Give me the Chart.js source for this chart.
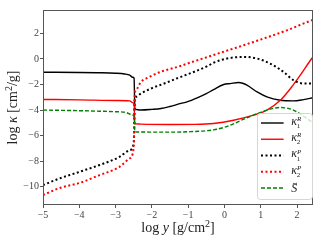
<!DOCTYPE html>
<html>
<head>
<meta charset="utf-8">
<script src="https://cdn.jsdelivr.net/npm/chart.js@4.4.1/dist/chart.umd.min.js"></script>
<style>
  html, body { margin: 0; padding: 0; background: #fff; }
  canvas { display: block; }
</style>
</head>
<body>
<canvas id="c" width="314" height="245"></canvas>
<script>
/* axis ranges and ticks */
const xMin = -5, xMax = 2.44;
const yMin = -11.43, yMax = 3.83;
const xTicks = [-5, -4, -3, -2, -1, 0, 1, 2];
const yTicks = [-10, -8, -6, -4, -2, 0, 2];

/* kappa_1^R (black, solid) */
const k1R_x = [-5, -4, -3.5, -3, -2.75, -2.61, -2.53, -2.49, -2.47, -2.44, -2.3, -2.0, -1.75, -1.5, -1.2,
               -1.03, -0.75, -0.5, -0.3, -0.02, 0.16, 0.39, 0.5, 0.62, 0.9, 1.17, 1.54, 1.9, 2.18, 2.44];
const k1R_y = [-1.04, -1.06, -1.08, -1.12, -1.18, -1.27, -1.43, -1.5, -3.85, -3.95, -4.0, -3.95, -3.88, -3.72, -3.48,
               -3.36, -3.05, -2.72, -2.4, -2.0, -1.93, -1.84, -1.9, -2.05, -2.58, -2.97, -3.23, -3.28, -3.18, -3.04];

/* kappa_2^R (red, solid) */
const k2R_x = [-5, -4, -3, -2.61, -2.53, -2.49, -2.47, -2.44, -2.3, -1.5, -0.8, -0.3, 0.25, 0.8, 1.17, 1.54, 1.82, 2.09, 2.37, 2.44];
const k2R_y = [-3.17, -3.2, -3.25, -3.28, -3.42, -3.5, -5.05, -5.08, -5.1, -5.13, -5.12, -5.05, -4.8, -4.4, -4.0, -3.23, -2.31, -1.27, -0.1, 0.16];

/* kappa_1^P (black, dotted) */
const k1P_x = [-5, -4.54, -3.99, -3.44, -2.89, -2.61, -2.5, -2.47, -2.44, -2.3, -2.02, -1.66, -1.2, -0.83, -0.46,
               -0.3, 0.07, 0.53, 0.9, 1.26, 1.63, 1.9, 2.18, 2.44];
const k1P_y = [-9.87, -9.35, -8.83, -8.3, -7.66, -7.13, -6.6, -3.1, -2.97, -2.7, -2.31, -1.92, -1.4, -1.0, -0.55,
               -0.3, 0.03, 0.16, 0.03, -0.36, -1.02, -1.66, -1.92, -1.92];

/* kappa_2^P (red, dotted) */
const k2P_x = [-5, -4.54, -3.99, -3.44, -2.89, -2.61, -2.5, -2.47, -2.44, -2.3, -2.12, -1.75, -1.29, -0.83, -0.46, 0.8, 1.72, 2.4, 2.44];
const k2P_y = [-10.65, -10.1, -9.7, -9.09, -8.44, -7.78, -6.9, -2.7, -2.45, -1.8, -1.48, -1.0, -0.62, -0.18, 0.16, 1.33, 2.24, 3.02, 3.06];

/* S tilde (green, dashed) */
const S_x = [-5, -4, -3.44, -3, -2.7, -2.53, -2.49, -2.47, -2.3, -1.75, -1.0, -0.3, 0.0, 0.25, 0.5, 0.8, 1.17, 1.54, 1.9, 2.27, 2.44];
const S_y = [-4.0, -4.05, -4.09, -4.13, -4.2, -4.4, -4.5, -5.7, -5.72, -5.73, -5.7, -5.55, -5.35, -5.08, -4.75, -4.4, -4.0, -3.8, -4.0, -4.66, -5.0];

/* legend symbols */
const legendSym = ["\u03ba", "\u03ba", "\u03ba", "\u03ba", "S"];
const legendSub = ["1", "2", "1", "2", ""];
const legendSup = ["R", "R", "P", "P", ""];

const SERIF = '"Liberation Serif", "DejaVu Serif", serif';

function pts(xs, ys) {
  return xs.map((x, i) => ({ x: x, y: ys[i] }));
}

const fmt = v => (v < 0 ? "\u2212" + Math.abs(v) : String(v));

function drawRuns(ctx, runs, cx, cy) {
  let w = 0;
  runs.forEach(r => { ctx.font = r.font; w += ctx.measureText(r.t).width; });
  let x = cx - w / 2;
  runs.forEach(r => {
    ctx.font = r.font;
    ctx.fillText(r.t, x, cy + (r.dy || 0));
    x += ctx.measureText(r.t).width;
  });
}

/* ===== plugins ===== */
const framePlugin = {
  id: "frame",
  afterDatasetsDraw(chart) {
    const a = chart.chartArea, ctx = chart.ctx;
    ctx.save();
    ctx.strokeStyle = "#555";
    ctx.lineWidth = 1;
    ctx.strokeRect(Math.round(a.left) + 0.5, Math.round(a.top) + 0.5,
                   Math.round(a.right - a.left) - 1, Math.round(a.bottom - a.top) - 1);
    ctx.restore();
  }
};

const titlePlugin = {
  id: "texTitles",
  afterDraw(chart) {
    const a = chart.chartArea, ctx = chart.ctx;
    const up = "14px " + SERIF, it = "italic 14px " + SERIF, sm = "10px " + SERIF;
    ctx.save();
    ctx.fillStyle = "#222";
    ctx.textBaseline = "alphabetic";
    drawRuns(ctx, [
      { t: "log ", font: up }, { t: "y", font: it }, { t: " [g/cm", font: up },
      { t: "2", font: sm, dy: -5 }, { t: "]", font: up }
    ], (a.left + a.right) / 2, a.bottom + 27);

    ctx.translate(17, (a.top + a.bottom) / 2);
    ctx.rotate(-Math.PI / 2);
    drawRuns(ctx, [
      { t: "log ", font: up }, { t: "\u03ba", font: it }, { t: " [cm", font: up },
      { t: "2", font: sm, dy: -5 }, { t: "/g]", font: up }
    ], 0, 0);
    ctx.restore();
  }
};

const legendPlugin = {
  id: "texLegend",
  afterDraw(chart) {
    const a = chart.chartArea, ctx = chart.ctx;
    const w = 55, h = 86;
    const x0 = Math.round(a.right - 1.5 - w), y0 = Math.round(a.bottom - 6 - h);
    ctx.save();
    ctx.beginPath();
    ctx.roundRect(x0 + 0.5, y0 + 0.5, w, h, 3);
    ctx.fillStyle = "rgba(255,255,255,0.8)";
    ctx.fill();
    ctx.strokeStyle = "#d6d6d6";
    ctx.lineWidth = 1;
    ctx.stroke();

    chart.data.datasets.forEach((ds, i) => {
      const cy = y0 + 10 + i * 16.25;
      ctx.beginPath();
      ctx.setLineDash(ds.borderDash || []);
      ctx.lineWidth = ds.borderWidth;
      ctx.strokeStyle = ds.borderColor;
      ctx.lineCap = "butt";
      ctx.moveTo(x0 + 4, cy);
      ctx.lineTo(x0 + 26.6, cy);
      ctx.stroke();
      ctx.setLineDash([]);

      const tx = x0 + 34.3;
      ctx.fillStyle = "#222";
      ctx.textBaseline = "alphabetic";
      ctx.textAlign = "left";
      if (legendSym[i] === "S") {
        ctx.font = "italic 12px " + SERIF;
        ctx.fillText("S", tx, cy + 3.8);
        // tilde accent
        ctx.beginPath();
        ctx.strokeStyle = "#222";
        ctx.lineWidth = 0.8;
        const ax = tx + 1.5, ay = cy - 4.6;
        ctx.moveTo(ax, ay + 0.6);
        ctx.bezierCurveTo(ax + 1.2, ay - 1.2, ax + 2.4, ay + 1.6, ax + 4.2, ay - 0.4);
        ctx.stroke();
      } else {
        ctx.font = "italic 12px " + SERIF;
        ctx.fillText(legendSym[i], tx, cy + 1.9);
        const sw = ctx.measureText(legendSym[i]).width;
        ctx.font = "italic 7px " + SERIF;
        ctx.fillText(legendSup[i], tx + sw, cy - 1.8);
        ctx.font = "7px " + SERIF;
        ctx.fillText(legendSub[i], tx + sw - 0.3, cy + 5.2);
      }
    });
    ctx.restore();
  }
};

/* ===== chart ===== */
const tickStyle = { font: { family: SERIF, size: 10 }, color: "#444", autoSkip: false, maxRotation: 0, callback: v => fmt(v) };
const gridStyle = { drawOnChartArea: false, drawTicks: true, tickLength: 3, color: "#555", lineWidth: 1 };

new Chart(document.getElementById("c"), {
  type: "line",
  data: {
    datasets: [
      { label: "k1R", data: pts(k1R_x, k1R_y), borderColor: "#000000", borderWidth: 1.4, order: 5 },
      { label: "k2R", data: pts(k2R_x, k2R_y), borderColor: "#ff0000", borderWidth: 1.4, order: 4 },
      { label: "k1P", data: pts(k1P_x, k1P_y), borderColor: "#000000", borderWidth: 2, borderDash: [2, 2.5], order: 3 },
      { label: "k2P", data: pts(k2P_x, k2P_y), borderColor: "#ff0000", borderWidth: 2, borderDash: [2, 2.5], order: 2 },
      { label: "S", data: pts(S_x, S_y), borderColor: "#008000", borderWidth: 1.4, borderDash: [4, 2], order: 1 }
    ]
  },
  options: {
    responsive: false,
    animation: false,
    devicePixelRatio: 1,
    layout: { padding: { top: 10, right: 1, left: 0, bottom: 0 } },
    elements: {
      point: { radius: 0 },
      line: { cubicInterpolationMode: "monotone", borderCapStyle: "butt", fill: false }
    },
    plugins: { legend: { display: false }, tooltip: { enabled: false } },
    scales: {
      x: {
        type: "linear", min: xMin, max: xMax,
        afterBuildTicks: s => { s.ticks = xTicks.map(v => ({ value: v })); },
        afterFit: s => { s.height = 40; },
        ticks: Object.assign({ padding: 1 }, tickStyle),
        grid: gridStyle,
        border: { display: false }
      },
      y: {
        type: "linear", min: yMin, max: yMax,
        afterBuildTicks: s => { s.ticks = yTicks.map(v => ({ value: v })); },
        afterFit: s => { s.width = 43; },
        ticks: Object.assign({ padding: 1 }, tickStyle),
        grid: gridStyle,
        border: { display: false }
      }
    }
  },
  plugins: [framePlugin, titlePlugin, legendPlugin]
});
</script>
</body>
</html>
